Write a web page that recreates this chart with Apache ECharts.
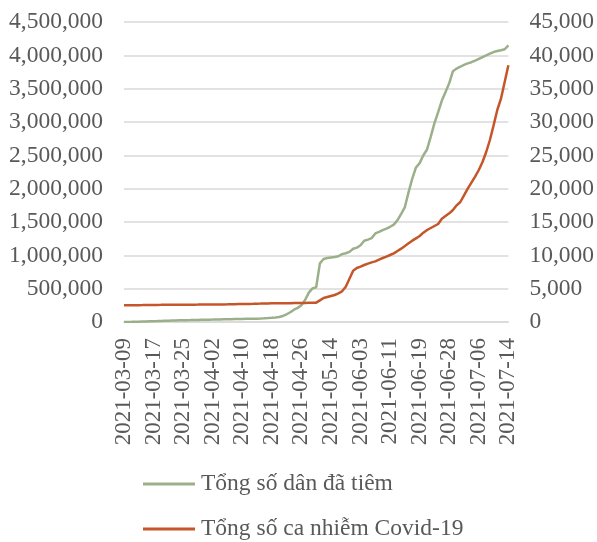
<!DOCTYPE html>
<html>
<head>
<meta charset="utf-8">
<script src="https://cdn.jsdelivr.net/npm/echarts@6/dist/echarts.min.js"></script>
<style>html,body{margin:0;padding:0;background:#fff}#c{width:597px;height:542px}</style>
</head>
<body>
<div id="c"></div>
<script>
const categories = [
"2021-03-09","2021-03-10","2021-03-11","2021-03-12","2021-03-13","2021-03-14","2021-03-15","2021-03-16",
"2021-03-17","2021-03-18","2021-03-19","2021-03-20","2021-03-21","2021-03-22","2021-03-23","2021-03-24",
"2021-03-25","2021-03-26","2021-03-27","2021-03-28","2021-03-29","2021-03-30","2021-03-31","2021-04-01",
"2021-04-02","2021-04-03","2021-04-04","2021-04-05","2021-04-06","2021-04-07","2021-04-08","2021-04-09",
"2021-04-10","2021-04-11","2021-04-12","2021-04-13","2021-04-14","2021-04-15","2021-04-16","2021-04-17",
"2021-04-18","2021-04-19","2021-04-20","2021-04-21","2021-04-22","2021-04-23","2021-04-24","2021-04-25",
"2021-04-26","2021-04-27","2021-04-28","2021-04-29","2021-05-02","2021-05-05","2021-05-08","2021-05-11",
"2021-05-14","2021-05-16","2021-05-19","2021-05-22","2021-05-25","2021-05-28","2021-05-30","2021-06-01",
"2021-06-03","2021-06-04","2021-06-05","2021-06-06","2021-06-07","2021-06-08","2021-06-09","2021-06-10",
"2021-06-11","2021-06-12","2021-06-13","2021-06-14","2021-06-15","2021-06-16","2021-06-17","2021-06-18",
"2021-06-19","2021-06-20","2021-06-21","2021-06-22","2021-06-23","2021-06-25","2021-06-26","2021-06-27",
"2021-06-28","2021-06-29","2021-06-30","2021-07-01","2021-07-02","2021-07-03","2021-07-04","2021-07-05",
"2021-07-06","2021-07-07","2021-07-08","2021-07-09","2021-07-10","2021-07-11","2021-07-12","2021-07-13",
"2021-07-14"
];
const vaccinated = [
500,1200,2100,3500,5000,6800,8600,10500,
12400,14300,16500,18200,20000,21800,23300,24900,
26400,27600,28700,29900,31200,32300,33500,34600,
35700,37200,39000,40100,41300,42400,43500,44600,
45800,46900,48100,49300,50600,52400,54900,58200,
62500,68500,76000,91000,116000,146000,185000,212000,
252000,330000,440000,505000,522000,880000,945000,960000,
968000,976000,986000,1018000,1032000,1052000,1098000,1115000,
1152000,1218000,1236000,1258000,1328000,1352000,1378000,1401000,
1428000,1461000,1528000,1622000,1724000,1948000,2152000,2318000,
2383000,2502000,2588000,2781000,2982000,3148000,3322000,3451000,
3583000,3762000,3801000,3829000,3858000,3879000,3897000,3921000,
3946000,3974000,4001000,4026000,4049000,4064000,4076000,4091000,
4150000
];
const cases = [
2512,2515,2524,2526,2529,2533,2553,2558,
2561,2567,2570,2575,2578,2584,2586,2587,
2594,2598,2603,2606,2607,2611,2614,2615,
2620,2626,2631,2640,2650,2662,2668,2683,
2693,2702,2717,2723,2751,2757,2770,2787,
2795,2802,2810,2817,2824,2830,2838,2845,
2852,2860,2870,2880,2900,3250,3600,3750,
3900,4050,4300,4600,5300,6500,7700,8100,
8300,8550,8750,8950,9100,9350,9600,9800,
10050,10300,10650,11000,11400,11800,12200,12550,
12900,13400,13800,14100,14400,14700,15500,15900,
16300,16800,17500,18000,19000,20000,20900,21800,
22800,24000,25500,27300,29500,31800,33500,36000,
38500
];
const seriesNames = ["Tổng số dân đã tiêm", "Tổng số ca nhiễm Covid-19"];
const leftTicks = {min: 0, max: 4500000, interval: 500000};
const rightTicks = {min: 0, max: 45000, interval: 5000};

const FONT = "'Liberation Serif','Times New Roman',serif";
const TXT = '#595959';
function legendFor(name, top) {
  return {
    orient: 'horizontal', left: 143, top: top, padding: 0,
    itemWidth: 52, itemHeight: 3, icon: 'rect',
    textStyle: {fontFamily: FONT, fontSize: 23.5, color: TXT, lineHeight: 24, padding: [0, 0, 0, 1]},
    data: [name]
  };
}
const chart = echarts.init(document.getElementById('c'), null, {renderer: 'canvas'});
chart.setOption({
  animation: false,
  backgroundColor: '#fff',
  grid: {left: 124, right: 88, top: 22, bottom: 220, containLabel: false},
  legend: [legendFor(seriesNames[0], 472), legendFor(seriesNames[1], 517)],
  xAxis: {
    type: 'category', data: categories, boundaryGap: false,
    axisLine: {lineStyle: {color: '#d9d9d9', width: 1.5}},
    axisTick: {show: false},
    axisLabel: {interval: 7, rotate: 90, margin: 16, fontFamily: FONT, fontSize: 23, color: TXT}
  },
  yAxis: [
    {type: 'value', min: leftTicks.min, max: leftTicks.max, interval: leftTicks.interval,
     axisLine: {show: false}, axisTick: {show: false},
     splitLine: {lineStyle: {color: '#d9d9d9', width: 1.5}},
     axisLabel: {margin: 21, fontFamily: FONT, fontSize: 23.5, color: TXT}},
    {type: 'value', min: rightTicks.min, max: rightTicks.max, interval: rightTicks.interval,
     axisLine: {show: false}, axisTick: {show: false}, splitLine: {show: false},
     axisLabel: {margin: 21, fontFamily: FONT, fontSize: 23.5, color: TXT}}
  ],
  series: [
    {name: seriesNames[0], type: 'line', yAxisIndex: 0, data: vaccinated, showSymbol: false, symbol: 'none',
     lineStyle: {color: '#9bb08a', width: 2.5}, itemStyle: {color: '#9bb08a'}},
    {name: seriesNames[1], type: 'line', yAxisIndex: 1, data: cases, showSymbol: false, symbol: 'none',
     lineStyle: {color: '#c5562a', width: 2.5}, itemStyle: {color: '#c5562a'}}
  ]
});
</script>
</body>
</html>
